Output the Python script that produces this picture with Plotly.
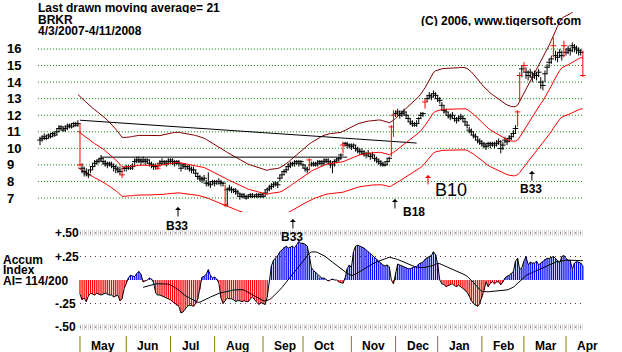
import numpy as np
import pandas as pd
import plotly.graph_objects as go

# ---------------- data ----------------
holidays = ["2007-04-06", "2007-05-28", "2007-07-04", "2007-09-03", "2007-11-22",
            "2007-12-25", "2008-01-01", "2008-01-21", "2008-02-18", "2008-03-21"]
dates = pd.bdate_range("2007-04-03", "2008-04-11", freq="C", holidays=holidays)

closes = [10.5,10.6,10.7,10.6,10.8,10.7,10.9,10.8,11.0,11.2,11.3,11.1,11.2,11.3,11.4,11.3,11.5,11.4,11.5,
          9.0,
          8.8,8.6,8.5,8.4,8.7,8.9,9.1,9.2,9.3, 9.4,
          9.2,9.1,9.0,9.1,9.0,8.9,8.8,8.7,8.6, 8.4,
          8.8,8.8,8.9,8.8,8.9,
          9.2,9.3,9.3,9.2,9.3,9.2,9.3,9.1,
          9.0,8.9,8.9,8.8,
          9.1,9.2,9.2,9.1,9.2,9.3,9.2,9.1,9.2,9.1, 8.8,
          9.0,8.9,8.9,8.8,8.7,8.7,
          8.5,8.3,8.2,8.1,8.2,
          7.9,7.9,7.8,
          8.0,7.9,8.0,8.0,7.9,7.9, 6.6, 7.5,
          7.6,7.5,7.5,7.4,7.3,
          7.1,7.2,7.1,7.0,7.1,7.2,7.1,7.1,7.2,7.1,7.2,7.1,7.3,
          7.5,7.6,7.7,7.8,7.9,7.8,
          8.2,8.4,8.6,8.7,8.9,
          9.0,9.1,9.1,9.2,9.1,9.2,
          9.0,8.8,8.7, 9.3,
          9.0,9.1,9.0,9.1,9.2,9.1,9.2,9.3,9.2,
          9.1,9.0,9.2,9.3,9.4, 9.6, 10.2,
          10.3,10.2,10.2,10.1,10.2,10.0,
          9.9,9.8,9.8,9.7,9.6,9.7,9.5,9.6,
          9.4,9.3,9.2,9.1,9.0,9.0,9.2, 9.4, 11.3, 12.0,
          12.1,12.2,12.0,12.1,12.2,12.0,
          11.8,11.6,11.5,11.4,11.5,
          11.8,12.0,12.1, 12.8,
          13.0,13.2,13.1,13.3,13.2,13.0,12.9,
          12.6,12.3,12.2,
          12.0,11.9,12.0,11.8,11.7,11.8,11.9,
          11.8,11.6,11.4,
          11.1,11.0,10.8,10.7,
          10.5,10.4,10.3,10.2,10.1,
          10.3,10.2,10.3,10.2,10.3,10.4,
          10.0,10.2,
          10.5,10.4,10.6,10.7,
          10.9,11.2, 12.2, 14.4,
          14.8,15.0,14.6,
          14.4,14.6,14.3,14.5,14.4,14.6,
          14.0,13.8,
          14.5,14.9,15.2,15.4, 16.2,
          15.6,15.5,15.8,15.6, 16.2,
          15.8,16.0,15.9,16.2,16.1,16.0,15.9, 15.8, 14.4]

highs = [10.7,10.8,10.9,10.8,10.9,10.9,11.0,11.0,11.2,11.4,11.4,11.3,11.4,11.5,11.5,11.5,11.6,11.6,11.7,
         11.5,
         9.1,8.9,8.8,8.7,8.9,9.1,9.3,9.3,9.4, 9.6,
         9.4,9.3,9.2,9.2,9.2,9.1,9.0,8.9,8.9, 8.8,
         8.9,9.0,9.0,9.0,9.1,
         9.4,9.5,9.5,9.4,9.5,9.4,9.4,9.3,
         9.2,9.1,9.1,9.1,
         9.3,9.4,9.3,9.3,9.4,9.4,9.4,9.3,9.3,9.3, 9.0,
         9.1,9.1,9.0,9.0,8.9,8.9,
         8.7,8.5,8.4,8.3,8.4,
         8.1,8.55,8.0,
         8.1,8.1,8.1,8.2,8.1,8.0, 7.8, 7.6,
         7.8,7.7,7.6,7.6,7.5,
         7.3,7.3,7.3,7.2,7.2,7.3,7.3,7.2,7.3,7.3,7.3,7.3,7.5,
         7.6,7.8,7.9,8.0,8.0,8.0,
         8.4,8.6,8.7,8.9,9.1,
         9.2,9.2,9.3,9.3,9.3,9.3,
         9.1,9.0,8.9, 9.4,
         9.2,9.2,9.2,9.3,9.3,9.3,9.4,9.4,9.4,
         9.3,9.2,9.3,9.4,9.5, 9.7, 10.4,
         10.4,10.4,10.3,10.3,10.3,10.2,
         10.1,10.0,10.0,9.9,9.8,9.9,9.7,9.8,
         9.6,9.5,9.4,9.3,9.2,9.2,9.4, 9.5, 11.4, 12.3,
         12.3,12.4,12.3,12.3,12.4,12.2,
         12.0,11.8,11.7,11.6,11.7,
         11.9,12.2,12.2, 13.0,
         13.2,13.4,13.3,13.5,13.4,13.2,13.1,
         12.8,12.6,12.4,
         12.2,12.1,12.2,12.0,11.9,12.0,12.1,
         12.0,11.8,11.6,
         11.3,11.2,11.0,10.9,
         10.7,10.6,10.5,10.4,10.3,
         10.4,10.4,10.4,10.4,10.5,10.6,
         10.5,10.4,
         10.7,10.6,10.8,10.9,
         11.1,11.4, 12.3, 14.6,
         15.0,15.2,14.9,
         14.7,14.8,14.6,14.7,14.6,14.8,
         14.3,14.1,
         14.7,15.1,15.4,15.6, 16.7,
         15.9,15.8,16.0,15.9, 16.5,
         16.0,16.2,16.1,16.4,16.3,16.2,16.1, 16.0, 15.9]

lows = [10.2,10.4,10.5,10.5,10.6,10.6,10.7,10.7,10.8,11.0,11.1,11.0,11.0,11.1,11.2,11.2,11.3,11.3,11.3,
        8.9,
        8.5,8.3,8.3,8.2,8.5,8.7,8.9,9.0,9.1, 9.2,
        9.0,8.9,8.8,8.9,8.8,8.6,8.5,8.5,8.4, 8.2,
        8.6,8.6,8.7,8.7,8.7,
        9.0,9.1,9.1,9.0,9.1,9.0,9.1,8.9,
        8.8,8.7,8.7,8.7,
        8.9,9.0,9.0,8.9,9.0,9.1,9.0,8.9,9.0,8.9, 8.6,
        8.8,8.7,8.7,8.6,8.5,8.5,
        8.3,8.1,8.0,7.9,8.0,
        7.7,7.7,7.6,
        7.8,7.7,7.8,7.8,7.7,7.7, 6.45, 6.5,
        7.4,7.3,7.3,7.2,7.1,
        6.9,7.0,7.0,6.9,7.0,7.0,7.0,7.0,7.0,7.0,7.0,7.0,7.1,
        7.3,7.4,7.5,7.6,7.7,7.6,
        8.0,8.2,8.4,8.5,8.7,
        8.8,8.9,8.9,9.0,8.9,9.0,
        8.8,8.6,8.5, 8.7,
        8.9,8.9,8.9,8.9,9.0,8.9,9.0,9.1,9.0,
        8.8,8.5,8.9,9.1,9.2, 9.3, 9.7,
        10.1,10.0,10.0,9.9,10.0,9.8,
        9.7,9.6,9.6,9.5,9.4,9.5,9.3,9.4,
        9.2,9.1,9.0,8.9,8.9,8.9,9.0, 9.2, 9.5, 10.7,
        11.9,12.0,11.8,11.9,12.0,11.8,
        11.6,11.4,11.3,11.3,11.3,
        11.5,11.8,11.9, 12.4,
        12.8,13.0,12.9,13.1,13.0,12.8,12.7,
        12.3,12.1,12.0,
        11.8,11.7,11.8,11.6,11.5,11.6,11.7,
        11.6,11.4,11.2,
        10.9,10.8,10.6,10.5,
        10.3,10.2,10.1,10.0,9.9,
        10.1,10.0,10.1,10.0,10.1,10.2,
        9.7,9.9,
        10.3,10.2,10.4,10.5,
        10.7,10.9, 11.3, 12.8,
        14.3,14.6,14.2,
        14.1,14.3,14.0,14.2,14.1,14.3,
        13.6,13.5,
        14.0,14.5,14.9,15.1, 15.5,
        15.3,15.2,15.5,15.3, 15.5,
        15.6,15.7,15.6,15.8,15.8,15.7,15.6, 15.6, 14.3]

red_days = [19, 39, 56, 88, 128, 144, 167, 168, 183, 227, 228, 230, 244, 249, 258]

ai_start = 19
accum = [-0.15,-0.21,-0.19,-0.23,-0.17,-0.14,-0.15,-0.16,-0.14,-0.15,-0.16,-0.15,-0.14,-0.15,-0.16,-0.16,-0.18,-0.17,-0.16,-0.22,-0.20,
         -0.09,-0.04,0.02,0.05,0.04,0.035,0.07,0.09,0.06,-0.02,-0.01,0.0,0.02,0.01,-0.03,-0.14,-0.16,-0.16,-0.17,-0.18,
         -0.19,-0.20,-0.21,-0.23,-0.25,-0.27,-0.28,-0.35,-0.34,-0.31,-0.28,-0.27,-0.27,-0.28,-0.25,-0.20,-0.10,0.03,0.04,0.06,
         0.11,0.05,0.02,0.03,0.01,-0.03,-0.19,-0.25,-0.22,-0.19,-0.20,-0.20,-0.21,-0.23,-0.22,-0.22,-0.23,-0.22,-0.23,-0.23,
         -0.20,-0.18,-0.21,-0.23,-0.26,-0.24,-0.25,-0.26,-0.18,0.0,0.15,0.21,0.23,0.26,0.30,0.32,0.35,0.36,0.34,0.35,
         0.36,0.34,0.37,0.41,0.39,0.39,0.38,0.36,0.26,0.13,0.10,0.08,0.05,0.03,0.02,0.02,0.0,-0.01,0.0,0.01,
         0.0,0.0,-0.02,-0.03,-0.035,0.02,0.12,0.16,0.13,0.30,0.36,0.37,0.36,0.35,0.34,0.32,0.30,0.28,0.25,0.24,
         0.22,0.20,0.18,0.16,0.15,0.16,0.14,0.0,-0.04,0.08,0.17,0.16,0.15,0.14,0.13,0.12,0.12,0.13,0.14,0.14,
         0.17,0.18,0.19,0.22,0.24,0.25,0.26,0.30,0.27,0.17,0.0,-0.04,-0.05,-0.07,-0.06,-0.05,-0.04,-0.06,-0.07,-0.055,
         -0.07,-0.09,-0.11,-0.13,-0.17,-0.22,-0.25,-0.27,-0.28,-0.25,-0.19,-0.11,-0.02,-0.07,-0.035,-0.02,-0.04,-0.02,-0.02,-0.05,
         -0.02,0.02,0.04,0.05,0.07,0.09,0.20,0.23,0.11,0.13,0.20,0.25,0.16,0.19,0.18,0.18,0.20,0.16,0.18,0.20,
         0.22,0.23,0.23,0.24,0.25,0.23,0.21,0.18,0.25,0.26,0.23,0.21,0.21,0.11,0.18,0.195,0.19,0.18,0.15]

ma_window = 21
band_pct = 0.20
ai_ma_first = 49

# trendlines drawn on the chart (trading-day index, price)
trend1_x, trend1_y = [19, 179], [11.7, 10.32]
trend2_x, trend2_y = [29, 146], [9.47, 9.47]

# signals (trading-day index, label)
signal_idx = [65.6, 120.2, 168.7, 184.4, 233.8]
signal_txt = ["B33", "B33", "B18", "B10", "B33"]

price_ticks = [7, 8, 9, 10, 11, 12, 13, 14, 15, 16]
ai_ticks = [0.5, 0.25, -0.25, -0.5]
ai_tick_text = ["+.50", "+.25", "-.25", "-.50"]

# ---------------- geometry ----------------
W, H = 622, 352
X0PX, PXDAY = 40.0, 2.104
xr = [(0 - X0PX) / PXDAY, (W - X0PX) / PXDAY]
def py(px):
    return 1 - px / H

n = len(dates)
idx = list(range(n))
FONT = "Liberation Sans, Arial, sans-serif"
BOLD = dict(family=FONT, size=12, color="black", weight="bold")

fig = go.Figure()

# ---- price bars ----
bx, by, rx, ry = [], [], [], []
tbx, tby, trx, tr_y = [], [], [], []
for k in idx:
    if k in red_days:
        rx += [k, k, None]; ry += [lows[k], highs[k], None]
        trx.append(k); tr_y.append(closes[k])
    else:
        bx += [k, k, None]; by += [lows[k], highs[k], None]
        tbx.append(k); tby.append(closes[k])

ma = pd.Series(closes).rolling(ma_window, min_periods=19).mean()
upper = ma * (1 + band_pct)
lower = ma * (1 - band_pct)

fig.add_trace(go.Scatter(x=idx, y=upper, mode="lines", line=dict(color="#800000", width=1), hoverinfo="skip"))
fig.add_trace(go.Scatter(x=idx, y=lower, mode="lines", line=dict(color="#ff0000", width=1), hoverinfo="skip"))
fig.add_trace(go.Scatter(x=trend1_x, y=trend1_y, mode="lines", line=dict(color="black", width=1), hoverinfo="skip"))
fig.add_trace(go.Scatter(x=trend2_x, y=trend2_y, mode="lines", line=dict(color="black", width=1), hoverinfo="skip"))
fig.add_trace(go.Scatter(x=bx, y=by, mode="lines", line=dict(color="black", width=1), hoverinfo="skip"))
fig.add_trace(go.Scatter(x=tbx, y=tby, mode="markers",
                         marker=dict(symbol="line-ew", size=4, line=dict(color="black", width=1)), hoverinfo="skip"))
fig.add_trace(go.Scatter(x=idx, y=ma, mode="lines", line=dict(color="#ff0000", width=1), hoverinfo="skip"))
fig.add_trace(go.Scatter(x=rx, y=ry, mode="lines", line=dict(color="#ff0000", width=1), hoverinfo="skip"))
fig.add_trace(go.Scatter(x=trx, y=tr_y, mode="markers",
                         marker=dict(symbol="line-ew", size=4, line=dict(color="#ff0000", width=1)), hoverinfo="skip"))

# ---- accumulation index (thin vertical strokes) ----
ai_x = list(range(ai_start, ai_start + len(accum)))
px_pos, py_pos, px_neg, py_neg = [], [], [], []
for x, v in zip(ai_x, accum):
    if v >= 0:
        px_pos += [x, x, None]; py_pos += [0, v, None]
    else:
        px_neg += [x, x, None]; py_neg += [0, v, None]
fig.add_trace(go.Scatter(x=px_pos, y=py_pos, mode="lines", line=dict(color="#0000ff", width=1.3),
                         xaxis="x2", yaxis="y2", hoverinfo="skip"))
fig.add_trace(go.Scatter(x=px_neg, y=py_neg, mode="lines", line=dict(color="#ff0000", width=1.3),
                         xaxis="x2", yaxis="y2", hoverinfo="skip"))
fig.add_trace(go.Scatter(x=ai_x, y=accum, mode="lines", line=dict(color="black", width=1),
                         xaxis="x2", yaxis="y2", hoverinfo="skip"))
ai_ma = pd.Series(accum).rolling(21).mean()
ai_ma_x = [x for x in ai_x if x >= ai_ma_first]
ai_ma_y = [ai_ma[x - ai_start] for x in ai_ma_x]
fig.add_trace(go.Scatter(x=ai_ma_x, y=ai_ma_y, mode="lines", line=dict(color="black", width=1),
                         xaxis="x2", yaxis="y2", hoverinfo="skip"))

shapes = []
for v in price_ticks:
    shapes.append(dict(type="line", xref="x", yref="y", x0=-1, x1=n - 1, y0=v, y1=v,
                       line=dict(color="#008000", width=1, dash="1px,2px"), layer="below"))
for v in ai_ticks:
    if abs(v) == 0.5:
        shapes.append(dict(type="line", xref="x2", yref="y2", x0=ai_start, x1=n - 1, y0=v, y1=v,
                           line=dict(color="#d8d8d8", width=6, dash="1px,1px"), layer="below"))
    shapes.append(dict(type="line", xref="x2", yref="y2", x0=ai_start, x1=n - 1, y0=v, y1=v,
                       line=dict(color="#602060", width=1, dash="1px,4px"), layer="below"))

annotations = []
months = dates.month
starts = [k for k in range(1, n) if months[k] != months[k - 1]]
for k in starts:
    shapes.append(dict(type="line", xref="x2", yref="paper", x0=k, x1=k, y0=py(336), y1=0,
                       line=dict(color="#808000", width=1)))
    annotations.append(dict(x=k + 4.3, y=py(346), xref="x2", yref="paper", text=dates[k].strftime("%b"),
                            showarrow=False, xanchor="left", yanchor="middle", font=BOLD))

for v in price_ticks:
    annotations.append(dict(x=5 / W, y=v, xref="paper", yref="y", text=str(v), showarrow=False,
                            xanchor="left", yanchor="middle", font=dict(BOLD, size=13)))
for v, t in zip(ai_ticks, ai_tick_text):
    annotations.append(dict(x=53 / W, y=v, xref="paper", yref="y2", text=t, showarrow=False,
                            xanchor="left", yanchor="middle", font=BOLD))

def label(x, y, text, anchor="left"):
    return dict(x=x / W, y=py(y), xref="paper", yref="paper", text=text, showarrow=False,
                xanchor=anchor, yanchor="middle", font=BOLD, height=10, borderpad=0)

annotations += [
    label(37, 8, "Last drawn moving average= 21"),
    label(37, 19.5, "BRKR"),
    label(37, 30.5, "4/3/2007-4/11/2008"),
    label(582, 21.5, "(C) 2006, www.tigersoft.com", "right"),
    label(2, 260, "Accum"),
    label(2, 270, "Index"),
    label(2, 280.5, "AI= 114/200"),
]

sig_tip = [207, 219, 199, 175, 171]
sig_text_pos = [(-1, 226, "center"), (-1, 237, "center"), (6, 212, "left"), (5, 190, "left"), (-1, 189, "center")]
sig_arrow_col = ["black", "black", "black", "#ff0000", "black"]
for xi, txt, tip, (dx, ty, anc), ac in zip(signal_idx, signal_txt, sig_tip, sig_text_pos, sig_arrow_col):
    annotations.append(dict(x=xi, y=py(tip), xref="x", yref="paper", text="", showarrow=True,
                            ax=0, ay=11, arrowhead=1, arrowsize=1, arrowwidth=1, arrowcolor=ac,
                            standoff=0, startstandoff=0))
    f = BOLD if txt != "B10" else dict(family=FONT, size=18, color="black")
    annotations.append(dict(x=xi + dx / PXDAY, y=py(ty), xref="x", yref="paper", text=txt,
                            showarrow=False, xanchor=anc, yanchor="middle", font=f))

fig.update_layout(
    width=W, height=H, margin=dict(l=0, r=0, t=0, b=0),
    paper_bgcolor="white", plot_bgcolor="white", showlegend=False,
    xaxis=dict(domain=[0, 1], range=xr, visible=False, anchor="y"),
    yaxis=dict(domain=[py(212), py(12)], range=[16 - (212 - 49) / 16.56, 16 + 37 / 16.56],
               visible=False, anchor="x"),
    xaxis2=dict(domain=[0, 1], range=xr, visible=False, anchor="y2", matches="x"),
    yaxis2=dict(domain=[py(334), py(214)], range=[-(334 - 280) / 94, (280 - 214) / 94],
                visible=False, anchor="x2"),
    shapes=shapes, annotations=annotations,
)

fig.write_html("out.html")
